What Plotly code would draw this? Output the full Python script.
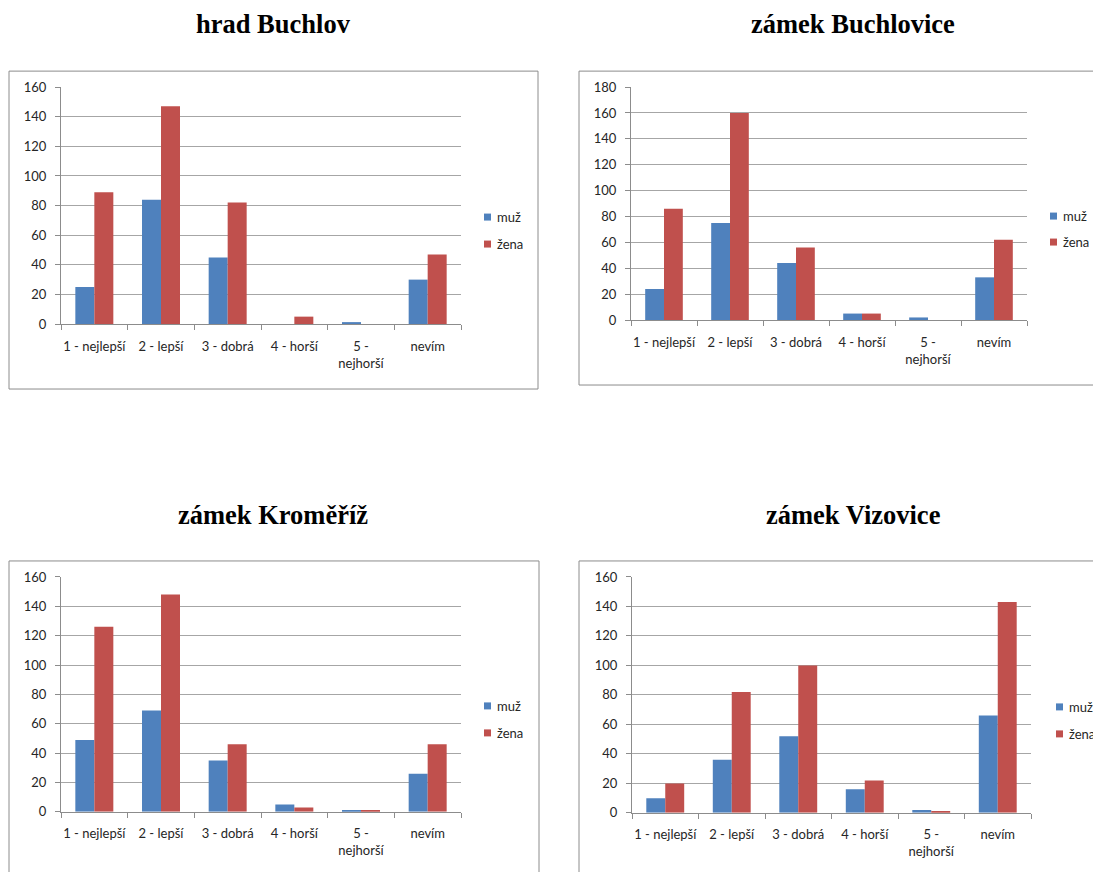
import plotly.graph_objects as go

# --- data -------------------------------------------------------------
categories = ["1 - nejlepší", "2 - lepší", "3 - dobrá", "4 - horší", "5 - nejhorší", "nevím"]
series_names = ["muž", "žena"]
series_colors = ["#4F81BD", "#C0504D"]

titles = ["hrad Buchlov", "zámek Buchlovice", "zámek Kroměříž", "zámek Vizovice"]

buchlov_muz = [25, 84, 45, 0, 1, 30]
buchlov_zena = [89, 147, 82, 5, 0, 47]

buchlovice_muz = [24, 75, 44, 5, 2, 33]
buchlovice_zena = [86, 160, 56, 5, 0, 62]

kromeriz_muz = [49, 69, 35, 5, 1, 26]
kromeriz_zena = [126, 148, 46, 3, 1, 46]

vizovice_muz = [10, 36, 52, 16, 2, 66]
vizovice_zena = [20, 82, 100, 22, 1, 143]

y_max = [160, 180, 160, 160]
y_step = 20

panel_data = [
    (buchlov_muz, buchlov_zena),
    (buchlovice_muz, buchlovice_zena),
    (kromeriz_muz, kromeriz_zena),
    (vizovice_muz, vizovice_zena),
]

# --- page geometry (pixels) -------------------------------------------
W, H = 1093, 872
BODY_MARGIN = 8  # default page margin around the figure div (vertical)
panels = [
    dict(plot=(61, 461, 87, 324), frame=(9, 538, 71, 389), title=(273, 24), legend=(484, 217, 244)),
    dict(plot=(631, 1027, 87, 320), frame=(579, 1110, 71, 385), title=(853, 24), legend=(1050, 216, 242)),
    dict(plot=(61, 461, 577, 812), frame=(9, 539, 561, 900), title=(273, 515), legend=(484, 706, 733)),
    dict(plot=(632, 1031, 577, 813), frame=(579, 1110, 561, 900), title=(853, 515), legend=(1056, 707, 734)),
]


def px_x(v):
    return v / W


def px_y(v):
    page = H + 2 * BODY_MARGIN
    fig_px = v * page / H - BODY_MARGIN
    return 1 - fig_px / H


TICK_FONT = dict(family="Lato, 'Open Sans', sans-serif", size=13, color="#262626")
TITLE_FONT = dict(family="'Liberation Serif', 'Times New Roman', serif", size=26.5, color="#000000")
GRID = "#a6a6a6"
AXIS = "#8c8c8c"
FRAME = "#8c8c8c"

tick_text = [c.replace("5 - ", "5 -<br>") for c in categories]

fig = go.Figure()
shapes = []
annotations = []

for i, (p, (muz, zena)) in enumerate(zip(panels, panel_data)):
    n = "" if i == 0 else str(i + 1)
    xref, yref = "x" + n, "y" + n
    for name, color, vals in zip(series_names, series_colors, (muz, zena)):
        fig.add_trace(go.Bar(
            x=categories, y=vals, name=name, marker=dict(color=color, line=dict(width=0)),
            xaxis=xref, yaxis=yref, showlegend=False,
        ))

    x0, x1, y0, y1 = p["plot"]
    fig.update_layout({
        "xaxis" + n: dict(
            domain=[px_x(x0), px_x(x1)], anchor=yref, type="category",
            categoryorder="array", categoryarray=categories,
            tickvals=categories, ticktext=tick_text, tickangle=0,
            showline=True, linecolor=AXIS, linewidth=1,
            ticks="outside", tickson="boundaries", ticklen=5, tickcolor=AXIS,
            showgrid=False, tickfont=TICK_FONT, ticklabelstandoff=10,
        ),
        "yaxis" + n: dict(
            domain=[px_y(y1), px_y(y0)], anchor=xref, range=[0, y_max[i]],
            tick0=0, dtick=y_step, showgrid=True, gridcolor=GRID, gridwidth=1,
            showline=True, linecolor=AXIS, linewidth=1, zeroline=False,
            ticks="outside", ticklen=5, tickcolor=AXIS, tickfont=TICK_FONT,
            ticklabelstandoff=6,
        ),
    })

    # outer chart frame
    fx0, fx1, fy0, fy1 = p["frame"]
    shapes.append(dict(type="rect", xref="paper", yref="paper",
                       x0=px_x(fx0), x1=px_x(fx1), y0=px_y(fy1), y1=px_y(fy0),
                       line=dict(color=FRAME, width=1), fillcolor="rgba(0,0,0,0)", layer="below"))

    # title above the frame
    tx, ty = p["title"]
    annotations.append(dict(text="<b>%s</b>" % titles[i], x=px_x(tx), y=px_y(ty),
                            xref="paper", yref="paper", xanchor="center", yanchor="middle",
                            showarrow=False, font=TITLE_FONT))

    # legend: colour key + series name
    lx, ly_m, ly_z = p["legend"]
    for name, color, ly in zip(series_names, series_colors, (ly_m, ly_z)):
        shapes.append(dict(type="rect", xref="paper", yref="paper",
                           x0=px_x(lx), x1=px_x(lx + 7), y0=px_y(ly + 3.5), y1=px_y(ly - 3.5),
                           line=dict(width=0), fillcolor=color))
        annotations.append(dict(text=name, x=px_x(lx + 11), y=px_y(ly), xref="paper", yref="paper",
                                xanchor="left", yanchor="middle", showarrow=False, font=TICK_FONT))

fig.update_layout(
    width=W, height=H, margin=dict(l=0, r=0, t=0, b=0),
    paper_bgcolor="white", plot_bgcolor="white",
    barmode="group", bargap=0.43, bargroupgap=0,
    showlegend=False, shapes=shapes, annotations=annotations,
)

fig.write_html("out.html")
